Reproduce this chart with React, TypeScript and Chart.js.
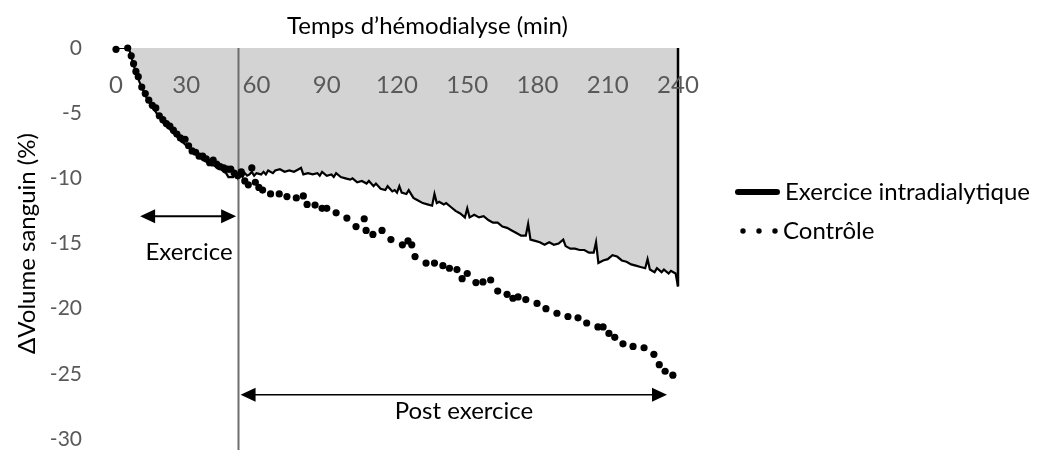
import React, { useEffect, useRef } from "react";
import { Chart, registerables } from "chart.js";

Chart.register(...registerables);

const FONT = "Lato, 'Open Sans', 'DejaVu Sans', sans-serif";

// ---- text ----
const xTitle = "Temps d’hémodialyse (min)";
const yTitle = "ΔVolume sanguin (%)";
const seriesNames = ["Exercice intradialytique", "Contrôle"];
const phaseLabels = ["Exercice", "Post exercice"];

// ---- axes ----
const xMin = 0;
const xMax = 240;
const xStep = 30;
const yMin = -30;
const yMax = 0;
const yStep = 5;

// ---- series: exercice intradialytique (min, %) ----
const exerciseTimes = [
  0, 5, 6, 7, 8, 9, 10, 11, 12, 13, 14, 15, 16, 17, 18, 19, 20, 21, 22, 23, 24, 25, 26, 27, 28, 29,
  30, 31, 32, 33, 34, 35, 36, 37, 38, 39, 40, 41, 42, 43, 44, 45, 46, 47, 48, 49, 50, 51, 52, 53, 54,
  55, 56, 57, 58, 59, 60, 62, 63, 64, 65, 67, 68, 70, 72, 74, 76, 78, 79, 80, 82, 84, 86, 87, 88, 90,
  92, 93, 94, 96, 98, 100, 101, 103, 105, 107, 108, 110, 111, 113, 115, 116, 118, 119, 120, 121, 122,
  124, 125, 127, 129, 131, 133, 135, 136, 137, 138, 140, 141, 143, 145, 147, 149, 150, 151, 153, 155,
  157, 159, 161, 163, 165, 167, 169, 171, 173, 175, 176, 177, 179, 181, 183, 185, 187, 189, 191, 192,
  194, 196, 198, 200, 202, 204, 205, 206, 208, 210, 212, 214, 216, 218, 220, 222, 224, 226, 227, 228,
  230, 231, 233, 234, 236, 237, 238, 239, 240,
];
const exerciseValues = [
  0, 0, -0.3, -1.0, -1.6, -2.1, -2.6, -3.0, -3.4, -3.8, -4.1, -4.4, -4.7, -4.9, -5.2, -5.4, -5.7, -5.9,
  -6.1, -6.2, -6.5, -6.6, -6.8, -7.0, -7.2, -7.3, -7.5, -7.6, -7.8, -8.0, -8.1, -8.3, -8.4, -8.6, -8.6,
  -8.8, -8.9, -9.0, -9.0, -9.2, -9.3, -9.3, -9.5, -9.6, -9.9, -9.9, -9.9, -9.6, -10.0, -9.7, -9.9,
  -9.6, -9.8, -9.7, -9.5, -9.8, -9.6, -9.7, -9.5, -9.7, -9.4, -9.6, -9.4, -9.3, -9.5, -9.4, -9.5,
  -9.3, -9.2, -9.7, -9.6, -9.7, -9.6, -9.8, -9.5, -9.8, -9.7, -9.9, -9.6, -9.9, -10.0, -10.1, -10.0,
  -10.3, -10.2, -10.4, -10.2, -10.6, -10.4, -10.8, -10.9, -10.6, -11.0, -10.9, -11.1, -10.6, -11.1,
  -11.2, -10.9, -11.5, -11.7, -11.9, -12.0, -12.1, -11.2, -11.9, -11.8, -12.0, -11.9, -12.2, -12.5,
  -12.7, -13.0, -12.3, -13.0, -12.8, -13.0, -12.9, -13.2, -13.4, -13.4, -13.7, -13.8, -14.0, -14.2,
  -14.4, -14.4, -13.5, -14.7, -14.8, -14.9, -15.1, -14.9, -15.1, -15.0, -14.7, -15.2, -15.4, -15.4,
  -15.5, -15.5, -15.7, -15.7, -14.9, -16.5, -16.3, -16.2, -15.9, -16.0, -16.3, -16.4, -16.6, -16.7,
  -16.8, -16.9, -16.2, -17.0, -17.2, -16.9, -17.2, -17.0, -17.3, -17.1, -17.2, -17.3, -18.3,
];

// ---- series: contrôle (min, %) ----
const controlTimes = [
  0, 5, 6.5, 7.5, 8.5, 9.5, 11, 12.5, 14, 15.5, 17, 18.5, 20, 21.5, 23, 24.5, 26, 27.5, 29.5, 31,
  32.5, 34, 35.5, 37, 38.5, 40, 41.5, 43, 44.5, 46, 47.5, 49, 50.5, 52, 53.5, 55, 56.5, 58, 59.5, 61,
  62.6, 66, 69.7, 73, 77, 80, 81.6, 85, 88, 90, 94, 98.6, 102.5, 106, 106.8, 109.7, 113.6, 117.4,
  122.3, 124.7, 126.3, 127.7, 132.4, 136, 139.6, 142.4, 145.6, 147.8, 150, 153.7, 156.7, 160, 163,
  167, 169.5, 171.7, 175, 179.8, 183.6, 188.3, 193, 197.3, 201, 205.8, 208, 210.5, 213, 216.5, 220.8,
  225.5, 229.7, 232, 234.5, 237.8,
];
const controlValues = [
  -0.1, 0, -0.6, -1.2, -1.8, -2.2, -3.0, -3.5, -4.0, -4.4, -4.6, -5.2, -5.5, -5.8, -6.0, -6.3, -6.6,
  -6.9, -7.0, -7.5, -7.9, -8.0, -8.3, -8.3, -8.5, -8.8, -8.6, -8.9, -9.1, -9.2, -9.3, -9.3, -9.6,
  -9.8, -9.5, -10.2, -10.5, -9.2, -10.3, -10.7, -10.9, -11.2, -11.2, -11.4, -11.5, -11.35, -12.0,
  -12.05, -12.3, -12.3, -12.65, -13.05, -13.7, -13.1, -14.0, -14.3, -14.0, -14.7, -15.1, -14.8, -15.1,
  -16.0, -16.5, -16.5, -16.7, -16.9, -17.0, -17.7, -17.3, -18.0, -17.95, -17.8, -18.65, -18.9, -19.2,
  -19.1, -19.3, -19.6, -20.0, -20.35, -20.6, -20.7, -21.1, -21.4, -21.4, -21.9, -22.2, -22.7, -22.9,
  -23.0, -23.5, -24.3, -24.8, -25.1,
];

// ---- annotation anchors (data units) ----
const exerciseEnd = 52;
const exerciseArrow = { from: 10.3, to: 51.3, y: -12.9 };
const exerciseLabel = { x: 31.2, y: -15.65 };
const postArrow = { from: 53.2, to: 235.3, y: -26.6 };
const postLabel = { x: 148.6, y: -27.9 };
const xTitleCenter = 133;

function drawArrowHead(ctx: CanvasRenderingContext2D, tipX: number, y: number, dir: number) {
  const len = 15;
  const half = 7;
  ctx.beginPath();
  ctx.moveTo(tipX, y);
  ctx.lineTo(tipX - dir * len, y - half);
  ctx.lineTo(tipX - dir * len, y + half);
  ctx.closePath();
  ctx.fill();
}

function drawDoubleArrow(ctx: CanvasRenderingContext2D, x1: number, x2: number, y: number, w: number) {
  ctx.save();
  ctx.strokeStyle = "#000";
  ctx.fillStyle = "#000";
  ctx.lineWidth = w;
  ctx.beginPath();
  ctx.moveTo(x1 + 10, y);
  ctx.lineTo(x2 - 10, y);
  ctx.stroke();
  drawArrowHead(ctx, x1, y, -1);
  drawArrowHead(ctx, x2, y, 1);
  ctx.restore();
}

const decorPlugin = {
  id: "decor",
  afterDatasetDraw(chart: any, args: any) {
    if (args.index !== 0) return;
    const { ctx, chartArea, scales } = chart;
    const x = scales.x;
    const y = scales.y;
    ctx.save();
    // end of exercise vertical line
    const ex = Math.round(x.getPixelForValue(exerciseEnd)) + 0.5;
    ctx.strokeStyle = "#6e6e6e";
    ctx.lineWidth = 2;
    ctx.beginPath();
    ctx.moveTo(ex, chartArea.top);
    ctx.lineTo(ex, chart.height);
    ctx.stroke();
    // right edge of the shaded area
    const last = exerciseValues[exerciseValues.length - 1];
    const rx = x.getPixelForValue(exerciseTimes[exerciseTimes.length - 1]);
    ctx.strokeStyle = "#000";
    ctx.lineWidth = 2.5;
    ctx.beginPath();
    ctx.moveTo(rx, y.getPixelForValue(yMax));
    ctx.lineTo(rx, y.getPixelForValue(last));
    ctx.stroke();
    ctx.restore();
  },
  afterDraw(chart: any) {
    const { ctx, chartArea, scales } = chart;
    const x = scales.x;
    const y = scales.y;
    ctx.save();
    ctx.font = `24px ${FONT}`;
    ctx.fillStyle = "#000";
    ctx.textBaseline = "middle";
    ctx.textAlign = "center";

    // x axis title (above the plot)
    ctx.fillText(xTitle, x.getPixelForValue(xTitleCenter), 26);

    // phase arrows and labels
    drawDoubleArrow(ctx, x.getPixelForValue(exerciseArrow.from), x.getPixelForValue(exerciseArrow.to), y.getPixelForValue(exerciseArrow.y), 2);
    ctx.fillText(phaseLabels[0], x.getPixelForValue(exerciseLabel.x), y.getPixelForValue(exerciseLabel.y));
    drawDoubleArrow(ctx, x.getPixelForValue(postArrow.from), x.getPixelForValue(postArrow.to), y.getPixelForValue(postArrow.y), 1.6);
    ctx.fillText(phaseLabels[1], x.getPixelForValue(postLabel.x), y.getPixelForValue(postLabel.y));

    // legend
    const lx = chartArea.right + 59;
    const ly1 = 192;
    const ly2 = 231;
    ctx.strokeStyle = "#000";
    ctx.lineWidth = 6;
    ctx.lineCap = "round";
    ctx.beginPath();
    ctx.moveTo(lx + 1, ly1);
    ctx.lineTo(lx + 40, ly1);
    ctx.stroke();
    ctx.fillStyle = "#000";
    [6, 22, 38].forEach((dx) => {
      ctx.beginPath();
      ctx.arc(lx + dx, ly2, 2.7, 0, Math.PI * 2);
      ctx.fill();
    });
    ctx.textAlign = "left";
    ctx.fillText(seriesNames[0], lx + 48, ly1);
    ctx.fillText(seriesNames[1], lx + 46, ly2);
    ctx.restore();
  },
};

export default function App() {
  const canvasRef = useRef<HTMLCanvasElement | null>(null);

  useEffect(() => {
    const canvas = canvasRef.current;
    if (!canvas) return;
    const chart = new Chart(canvas, {
      type: "line",
      data: {
        datasets: [
          {
            label: seriesNames[0],
            data: exerciseTimes.map((t, i) => ({ x: t, y: exerciseValues[i] })),
            borderColor: "#000",
            borderWidth: 2.2,
            backgroundColor: "#d3d3d3",
            fill: "end",
            pointRadius: 0,
            tension: 0,
            order: 2,
          },
          {
            label: seriesNames[1],
            data: controlTimes.map((t, i) => ({ x: t, y: controlValues[i] })),
            showLine: false,
            pointRadius: 3.6,
            pointBorderWidth: 0,
            pointBackgroundColor: "#000",
            pointBorderColor: "#000",
            backgroundColor: "#000",
            borderColor: "#000",
            fill: false,
            clip: false,
            order: 1,
          },
        ],
      },
      options: {
        responsive: false,
        animation: false,
        devicePixelRatio: 1,
        layout: { padding: { left: 0, top: 0, right: 363, bottom: 11 } },
        plugins: {
          legend: { display: false },
          tooltip: { enabled: false },
        },
        scales: {
          x: {
            type: "linear",
            position: "top",
            min: xMin,
            max: xMax,
            grid: { display: false },
            border: { display: false },
            ticks: {
              stepSize: xStep,
              mirror: true,
              padding: 23,
              z: 1,
              color: "#595959",
              font: { family: FONT, size: 24, lineHeight: 1.2 },
              maxRotation: 0,
              autoSkip: false,
            },
            afterFit: (scale: any) => {
              scale.height = 48;
              scale.paddingLeft = 0;
              scale.paddingRight = 0;
            },
          },
          y: {
            type: "linear",
            position: "left",
            min: yMin,
            max: yMax,
            grid: { display: false },
            border: { display: false },
            ticks: {
              stepSize: yStep,
              padding: 26,
              color: "#595959",
              font: { family: FONT, size: 21, lineHeight: 1.2 },
            },
            title: {
              display: true,
              text: yTitle,
              color: "#000",
              font: { family: FONT, size: 24, lineHeight: 1.2 },
              padding: { top: 13, bottom: 0 },
            },
            afterFit: (scale: any) => {
              scale.width = 116;
              scale.paddingTop = 0;
              scale.paddingBottom = 0;
            },
          },
        },
      },
      plugins: [decorPlugin],
    } as any);
    return () => chart.destroy();
  }, []);

  return (
    <div style={{ position: "fixed", left: 0, top: 0, width: 1041, height: 450, background: "#fff" }}>
      <canvas ref={canvasRef} width={1041} height={450} style={{ display: "block", width: 1041, height: 450 }} />
    </div>
  );
}
